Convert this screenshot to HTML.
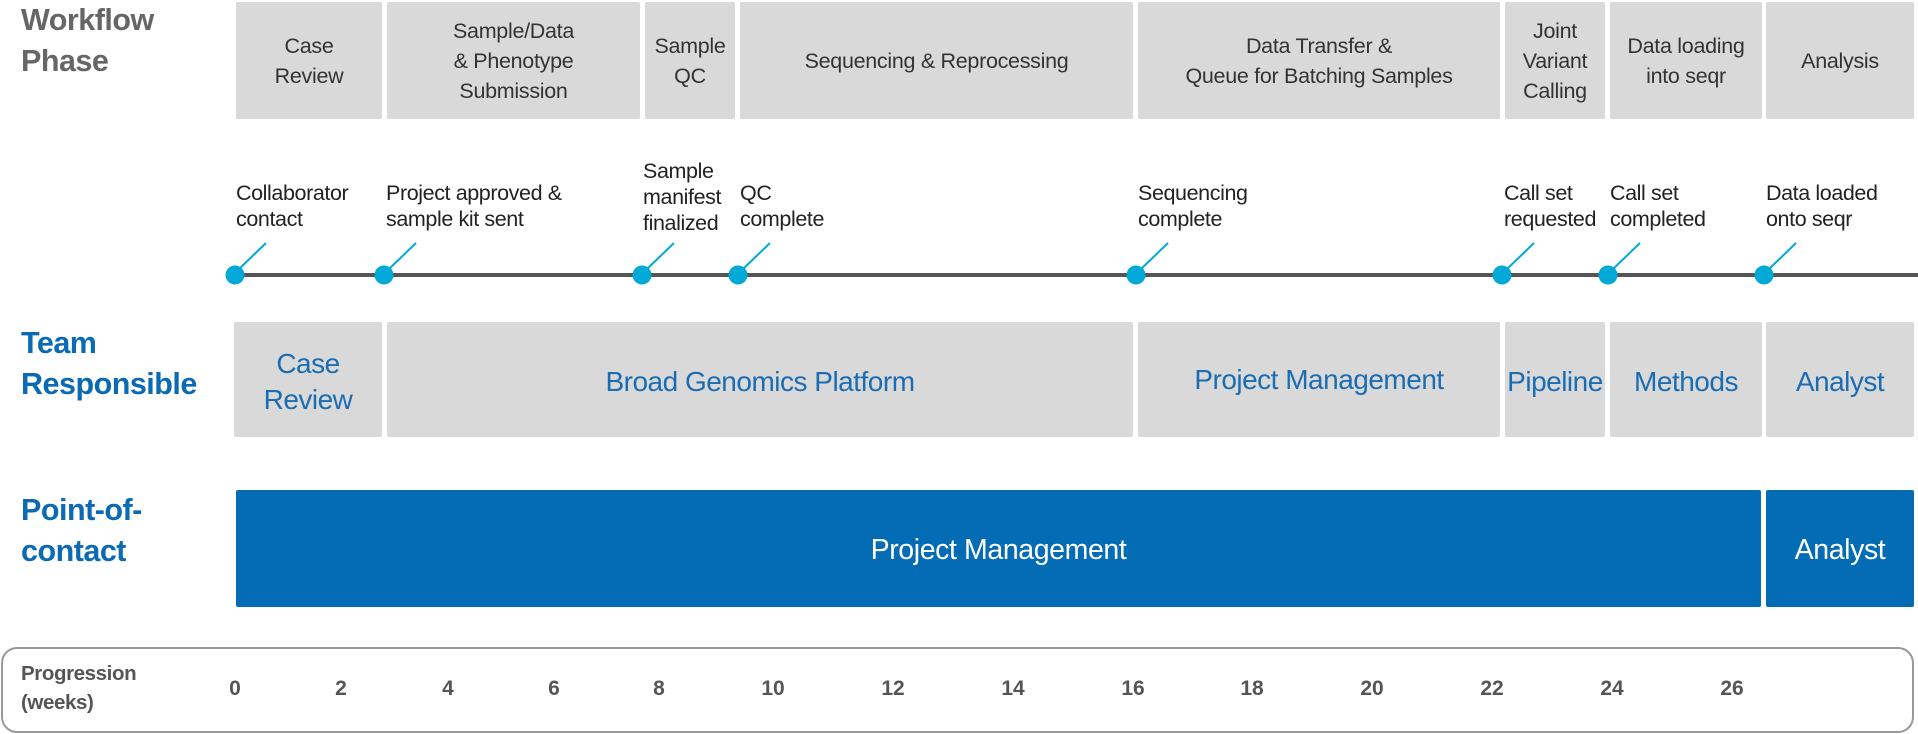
<!DOCTYPE html>
<html><head><meta charset="utf-8"><style>
body{margin:0;width:1918px;height:734px;background:#fff;position:relative;overflow:hidden;font-family:"Liberation Sans",sans-serif}
.b{position:absolute;display:flex;align-items:center;justify-content:center;text-align:center;border-radius:2px;box-sizing:border-box;white-space:nowrap}
.g{background:#d9d9d9;color:#333;font-size:21.5px;line-height:30px;letter-spacing:-0.3px}
.t{background:#d9d9d9;color:#1a6db3;font-size:28px;line-height:36px;letter-spacing:-0.5px}
.p{background:#046cb5;color:#fff;font-size:28.5px;letter-spacing:-0.4px}
.lab{position:absolute;font-weight:bold;font-size:30.5px;line-height:41px;letter-spacing:-0.5px}
.m{position:absolute;font-size:21.5px;line-height:26px;color:#222;letter-spacing:-0.4px;white-space:nowrap}
.n{position:absolute;top:677px;width:40px;margin-left:-20px;text-align:center;font-size:21px;font-weight:bold;color:#555}
</style></head><body>
<div class="lab" style="left:21px;top:0px;color:#666">Workflow<br>Phase</div>
<div class="lab" style="left:21px;top:323px;color:#0a6ab4">Team<br>Responsible</div>
<div class="lab" style="left:21px;top:490px;color:#0a6ab4">Point-of-<br>contact</div>

<div class="b g" style="left:236px;top:2px;width:146px;height:117px">Case<br>Review</div>
<div class="b g" style="left:387px;top:2px;width:253px;height:117px">Sample/Data<br>&amp; Phenotype<br>Submission</div>
<div class="b g" style="left:645px;top:2px;width:90px;height:117px">Sample<br>QC</div>
<div class="b g" style="left:740px;top:2px;width:393px;height:117px">Sequencing &amp; Reprocessing</div>
<div class="b g" style="left:1138px;top:2px;width:362px;height:117px">Data Transfer &amp;<br>Queue for Batching Samples</div>
<div class="b g" style="left:1505px;top:2px;width:100px;height:117px">Joint<br>Variant<br>Calling</div>
<div class="b g" style="left:1610px;top:2px;width:152px;height:117px">Data loading<br>into seqr</div>
<div class="b g" style="left:1766px;top:2px;width:148px;height:117px">Analysis</div>

<div class="m" style="left:236px;top:180px">Collaborator<br>contact</div>
<div class="m" style="left:386px;top:180px">Project approved &amp;<br>sample kit sent</div>
<div class="m" style="left:643px;top:158px">Sample<br>manifest<br>finalized</div>
<div class="m" style="left:740px;top:180px">QC<br>complete</div>
<div class="m" style="left:1138px;top:180px">Sequencing<br>complete</div>
<div class="m" style="left:1504px;top:180px">Call set<br>requested</div>
<div class="m" style="left:1610px;top:180px">Call set<br>completed</div>
<div class="m" style="left:1766px;top:180px">Data loaded<br>onto seqr</div>

<svg style="position:absolute;left:0;top:0" width="1918" height="320">
<line x1="234" y1="275" x2="1918" y2="275" stroke="#555" stroke-width="4"/>
<g stroke="#00a9d6" stroke-width="2">
<line x1="238" y1="270" x2="266" y2="243"/><line x1="388" y1="270" x2="416" y2="243"/>
<line x1="646" y1="270" x2="674" y2="243"/><line x1="742" y1="270" x2="770" y2="243"/>
<line x1="1140" y1="270" x2="1168" y2="243"/><line x1="1506" y1="270" x2="1534" y2="243"/>
<line x1="1612" y1="270" x2="1640" y2="243"/><line x1="1768" y1="270" x2="1796" y2="243"/>
</g>
<g fill="#00a9d6">
<circle cx="235" cy="275" r="9.5"/><circle cx="384" cy="275" r="9.5"/><circle cx="642" cy="275" r="9.5"/><circle cx="738" cy="275" r="9.5"/>
<circle cx="1136" cy="275" r="9.5"/><circle cx="1502" cy="275" r="9.5"/><circle cx="1608" cy="275" r="9.5"/><circle cx="1764" cy="275" r="9.5"/>
</g></svg>

<div class="b t" style="left:234px;top:322px;width:148px;height:115px;padding-top:4px">Case<br>Review</div>
<div class="b t" style="left:387px;top:322px;width:746px;height:115px;padding-top:4px">Broad Genomics Platform</div>
<div class="b t" style="left:1138px;top:322px;width:362px;height:115px">Project Management</div>
<div class="b t" style="left:1505px;top:322px;width:100px;height:115px;padding-top:4px">Pipeline</div>
<div class="b t" style="left:1610px;top:322px;width:152px;height:115px;padding-top:4px">Methods</div>
<div class="b t" style="left:1766px;top:322px;width:148px;height:115px;padding-top:4px">Analyst</div>

<div class="b p" style="left:236px;top:490px;width:1525px;height:117px;padding-top:4px">Project Management</div>
<div class="b p" style="left:1766px;top:490px;width:148px;height:117px;padding-top:4px">Analyst</div>

<div style="position:absolute;left:1px;top:647px;width:1913px;height:86px;box-sizing:border-box;border:2px solid #999;border-radius:16px"></div>
<div style="position:absolute;left:21px;top:659px;font-size:20.5px;line-height:29px;font-weight:bold;color:#555;letter-spacing:-0.4px">Progression<br>(weeks)</div>
<div class="n" style="left:235px">0</div><div class="n" style="left:341px">2</div><div class="n" style="left:448px">4</div>
<div class="n" style="left:554px">6</div><div class="n" style="left:659px">8</div><div class="n" style="left:773px">10</div>
<div class="n" style="left:893px">12</div><div class="n" style="left:1013px">14</div><div class="n" style="left:1133px">16</div>
<div class="n" style="left:1252px">18</div><div class="n" style="left:1372px">20</div><div class="n" style="left:1492px">22</div>
<div class="n" style="left:1612px">24</div><div class="n" style="left:1732px">26</div>
</body></html>
